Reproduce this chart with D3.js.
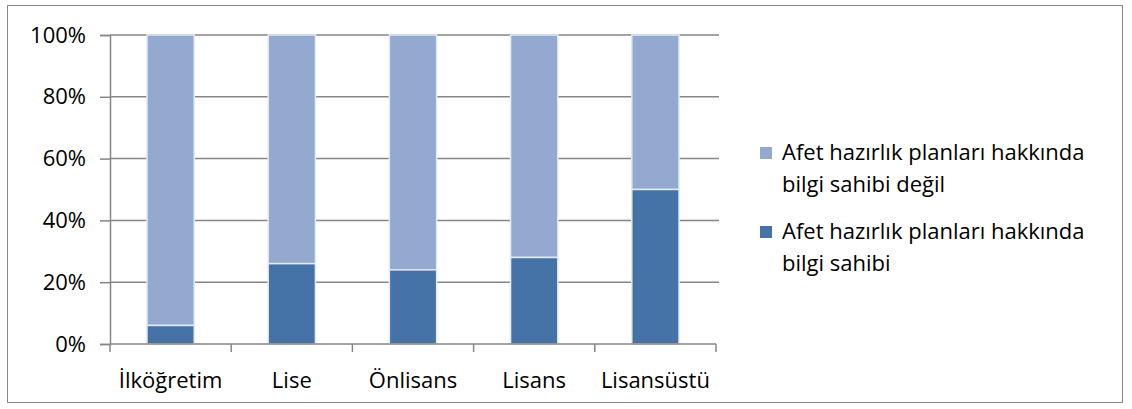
<!DOCTYPE html>
<html>
<head>
<meta charset="utf-8">
<style>
  body { margin: 0; background: #fff; }
  text { font-family: "Open Sans", sans-serif; fill: #000; }
</style>
</head>
<body>
<script src="https://cdn.jsdelivr.net/npm/d3@7"></script>
<script>
var categories = ["İlköğretim", "Lise", "Önlisans", "Lisans", "Lisansüstü"];
var bilgiSahibi = [6, 26, 24, 28, 50];
var bilgiSahibiDegil = [94, 74, 76, 72, 50];
var yTicks = [0, 20, 40, 60, 80, 100];
var seriesNames = [
  ["Afet hazırlık planları hakkında", "bilgi sahibi değil"],
  ["Afet hazırlık planları hakkında", "bilgi sahibi"]
];
var colors = ["#93a9cf", "#4572a7"];

var width = 1132, height = 409;
var fontSize = 22;
var svg = d3.select("body").append("svg")
  .attr("width", width)
  .attr("height", height);

// outer frame
svg.append("rect")
  .attr("x", 7.5).attr("y", 5.5)
  .attr("width", 1115).attr("height", 397)
  .attr("fill", "none")
  .attr("stroke", "#888")
  .attr("stroke-width", 1);

var x = d3.scaleBand().domain(categories).range([110, 716]).paddingInner(0.61).paddingOuter(0.305);
var y = d3.scaleLinear().domain([0, 100]).range([344, 35]);

// grid
svg.append("g").selectAll("line")
  .data(yTicks.slice(1))
  .enter().append("line")
  .attr("x1", 110).attr("x2", 719)
  .attr("y1", function(d){ return y(d); })
  .attr("y2", function(d){ return y(d); })
  .attr("stroke", "#868686")
  .attr("stroke-width", 1.5);

// stacked bars
var rows = categories.map(function(c, i){
  return { cat: c, sahibi: bilgiSahibi[i], degil: bilgiSahibiDegil[i] };
});
var stack = d3.stack().keys(["degil", "sahibi"]).order(d3.stackOrderReverse);
var layers = stack(rows);

svg.append("g").selectAll("g")
  .data(layers)
  .enter().append("g")
  .attr("fill", function(d, i){ return colors[i]; })
  .selectAll("rect")
  .data(function(d){ return d; })
  .enter().append("rect")
  .attr("x", function(d){ return x(d.data.cat); })
  .attr("width", x.bandwidth())
  .attr("y", function(d){ return y(d[1]); })
  .attr("height", function(d){ return y(d[0]) - y(d[1]); })
  .attr("stroke", "#e4ebf5")
  .attr("stroke-width", 1.5);

// y axis
var yAxis = svg.append("g")
  .attr("transform", "translate(110,0)")
  .call(d3.axisLeft(y).tickValues(yTicks).tickSize(10).tickPadding(14)
    .tickFormat(function(d){ return d + "%"; }));
yAxis.select(".domain").attr("stroke", "#868686").attr("stroke-width", 1.5);
yAxis.selectAll(".tick line").attr("stroke", "#868686").attr("stroke-width", 1.5);
yAxis.selectAll("text").attr("font-size", fontSize).attr("fill", "#000")
  .attr("font-family", "'Open Sans', sans-serif");

// x axis
var xAxisG = svg.append("g").attr("transform", "translate(0,344)");
xAxisG.append("line").attr("x1", 110).attr("x2", 716)
  .attr("stroke", "#868686").attr("stroke-width", 1.5);
var step = x.step();
xAxisG.selectAll(".xt")
  .data(d3.range(categories.length + 1))
  .enter().append("line")
  .attr("x1", function(i){ return 110 + i * step; })
  .attr("x2", function(i){ return 110 + i * step; })
  .attr("y1", 0).attr("y2", 8)
  .attr("stroke", "#868686").attr("stroke-width", 1.5);
xAxisG.selectAll(".xl")
  .data(categories)
  .enter().append("text")
  .attr("x", function(d){ return x(d) + x.bandwidth() / 2; })
  .attr("y", 44)
  .attr("text-anchor", "middle")
  .attr("font-size", fontSize)
  .text(function(d){ return d; });

// legend
var legend = svg.append("g");
var legendTop = [153, 232];
seriesNames.forEach(function(lines, i){
  var g = legend.append("g").attr("transform", "translate(0," + legendTop[i] + ")");
  g.append("rect").attr("x", 760).attr("y", -6).attr("width", 12).attr("height", 12)
    .attr("fill", colors[i]);
  g.selectAll("text").data(lines).enter().append("text")
    .attr("x", 782)
    .attr("y", function(d, j){ return 7 + j * 32; })
    .attr("font-size", fontSize)
    .text(function(d){ return d; });
});
</script>
</body>
</html>
